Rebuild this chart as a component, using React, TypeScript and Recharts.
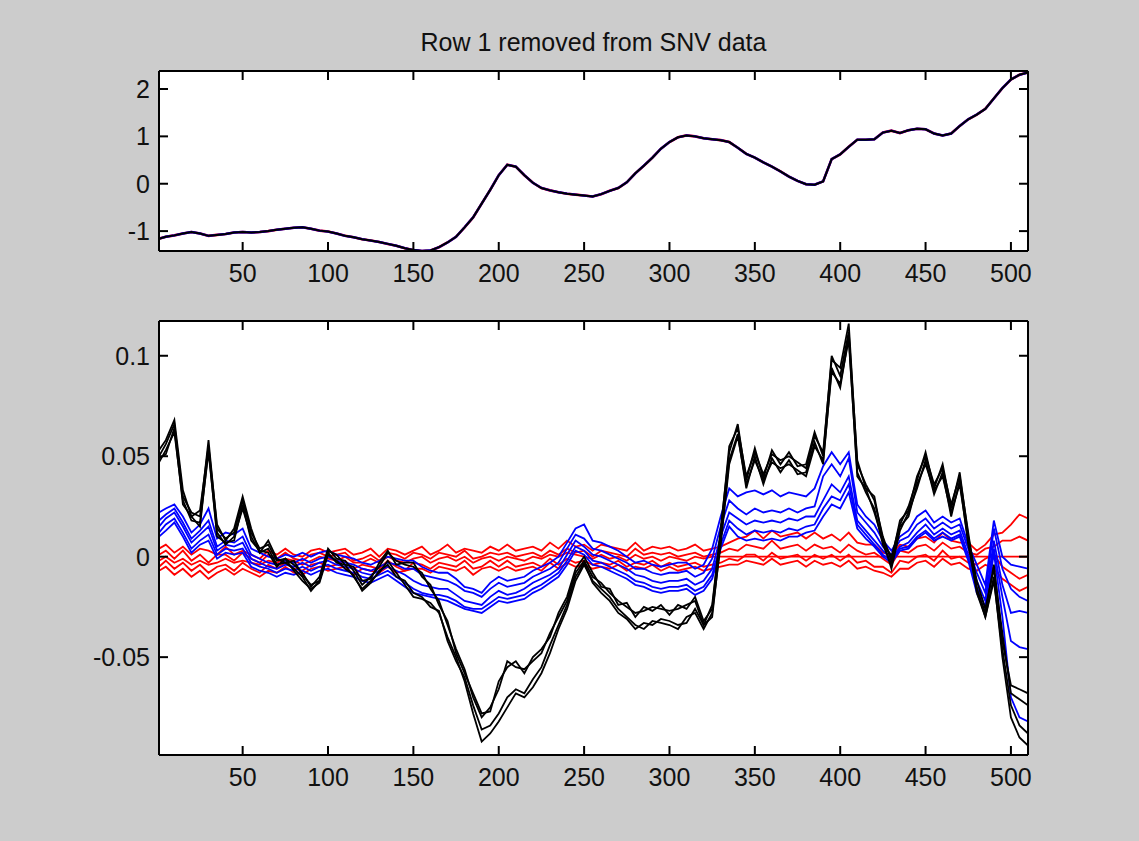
import { LineChart, Line, XAxis, YAxis, CartesianGrid } from "recharts";

// sample positions (variable index) shared by every series
const xs = [
  1, 5, 10, 15, 20, 25, 30, 35, 40, 45,
  50, 55, 60, 65, 70, 75, 80, 85, 90, 95,
  100, 105, 110, 115, 120, 125, 130, 135, 140, 145,
  150, 155, 160, 165, 170, 175, 180, 185, 190, 195,
  200, 205, 210, 215, 220, 225, 230, 235, 240, 245,
  250, 255, 260, 265, 270, 275, 280, 285, 290, 295,
  300, 305, 310, 315, 320, 325, 330, 335, 340, 345,
  350, 355, 360, 365, 370, 375, 380, 385, 390, 395,
  400, 405, 410, 415, 420, 425, 430, 435, 440, 445,
  450, 455, 460, 465, 470, 475, 480, 485, 490, 495,
  500, 505, 510,
];

const xTicks = [50, 100, 150, 200, 250, 300, 350, 400, 450, 500];
const topYTicks = [-1, 0, 1, 2];
const bottomYTicks = [-0.05, 0, 0.05, 0.1];

// upper panel: SNV spectrum (all groups overlap)
const topSpectrum = [
  -1.16, -1.12, -1.09, -1.05, -1.02, -1.05, -1.1, -1.08, -1.06, -1.03,
  -1.02, -1.03, -1.02, -1.0, -0.97, -0.95, -0.93, -0.92, -0.95, -0.99,
  -1.01, -1.05, -1.1, -1.13, -1.17, -1.2, -1.23, -1.27, -1.31, -1.36,
  -1.4, -1.42, -1.41, -1.34, -1.24, -1.12, -0.92, -0.71, -0.42, -0.13,
  0.18, 0.4, 0.36, 0.18, 0.02, -0.09, -0.14, -0.18, -0.21, -0.23,
  -0.25, -0.27, -0.22, -0.15, -0.09, 0.03, 0.22, 0.38, 0.55, 0.74,
  0.88, 0.98, 1.02, 1.0, 0.96, 0.94, 0.92, 0.88, 0.76, 0.63,
  0.55, 0.45, 0.36, 0.26, 0.15, 0.06, -0.01, -0.02, 0.05, 0.52,
  0.62, 0.78, 0.93, 0.93, 0.94, 1.08, 1.12, 1.07, 1.13, 1.16,
  1.15, 1.06, 1.02, 1.06, 1.22, 1.36, 1.46, 1.58, 1.8, 2.02,
  2.2, 2.3, 2.35,
];

// lower panel: residuals, red group
const red1 = [
  0.004, 0.006, 0.002, 0.005, 0.001, 0.004, 0.003, 0.001, 0.005, 0.001,
  0.003, 0.001, -0.001, 0.003, 0.001, 0.004, 0.001, 0.0, 0.003, 0.004,
  0.002, 0.003, 0.004, 0.001, 0.002, 0.004, 0.0, 0.004, 0.003, 0.001,
  0.003, 0.005, 0.001, 0.003, 0.006, 0.002, 0.004, 0.003, 0.002, 0.005,
  0.003, 0.006, 0.003, 0.004, 0.005, 0.003, 0.007, 0.004, 0.008, 0.005,
  0.006, 0.003, 0.006, 0.005, 0.004, 0.003, 0.007, 0.003, 0.005, 0.004,
  0.005, 0.003, 0.004, 0.006, 0.003, 0.004, 0.005, 0.007, 0.009, 0.01,
  0.013, 0.009, 0.013, 0.01, 0.011, 0.012, 0.009, 0.012, 0.009, 0.011,
  0.008, 0.012, 0.007, 0.006, 0.006, 0.002, 0.001, 0.006, 0.005, 0.009,
  0.01, 0.007, 0.012, 0.008, 0.007, 0.007, 0.003, 0.006, 0.011, 0.012,
  0.016, 0.021, 0.019,
];
const red2 = [
  0.001, 0.003, -0.001, 0.003, -0.002, 0.001, -0.003, 0.001, 0.001, -0.002,
  0.002, -0.001, -0.003, 0.001, -0.001, 0.002, -0.001, -0.002, 0.001, 0.002,
  0.0, 0.001, 0.002, -0.002, -0.001, 0.001, -0.002, 0.002, 0.001, -0.001,
  0.002, 0.001, -0.001, 0.002, 0.001, 0.0, 0.003, -0.001, 0.0, 0.002,
  0.001, 0.002, 0.0, 0.001, 0.002, 0.0, 0.003, 0.001, 0.004, 0.002,
  0.003, 0.0, 0.003, 0.002, 0.001, 0.0, 0.004, 0.001, 0.002, 0.001,
  0.002, 0.0, 0.001, 0.002, 0.0, 0.001, 0.002, 0.004, 0.003, 0.006,
  0.005, 0.004, 0.008, 0.004, 0.005, 0.006, 0.003, 0.006, 0.004, 0.005,
  0.002, 0.006, 0.003, 0.001, 0.002, -0.001, -0.004, 0.003, 0.002, 0.005,
  0.006, 0.003, 0.007, 0.004, 0.005, 0.002, 0.001, 0.004, 0.005, 0.008,
  0.008, 0.01, 0.008,
];
const red3 = [
  -0.002, 0.0, -0.003, -0.001, -0.004, -0.002, -0.004, -0.003, -0.001, -0.003,
  -0.002, -0.003, -0.004, -0.002, -0.003, -0.001, -0.002, -0.004, -0.002, 0.0,
  -0.001, -0.002, 0.0, -0.003, -0.003, -0.001, -0.003, 0.0, -0.002, -0.003,
  -0.001, 0.0, -0.003, -0.001, 0.0, -0.002, 0.0, -0.003, -0.001, 0.0,
  -0.002, 0.0, -0.001, -0.002, 0.0, -0.001, 0.001, 0.0, 0.002, 0.001,
  0.0, -0.001, 0.001, -0.001, 0.0, -0.002, 0.001, -0.001, 0.0, -0.002,
  0.0, -0.001, -0.002, 0.0, -0.001, 0.0, 0.0, 0.0, 0.0, 0.0,
  0.0, 0.0, 0.0, 0.0, 0.0, 0.0, 0.0, 0.0, 0.0, 0.0,
  0.0, 0.0, 0.0, 0.0, 0.0, 0.0, 0.0, 0.0, 0.0, 0.0,
  0.0, 0.0, 0.0, 0.0, 0.0, 0.0, 0.0, 0.0, 0.0, 0.0,
  0.0, 0.0, 0.0,
];
const red4 = [
  -0.005, -0.002, -0.006, -0.003, -0.007, -0.004, -0.008, -0.005, -0.004, -0.007,
  -0.003, -0.006, -0.008, -0.004, -0.006, -0.003, -0.006, -0.007, -0.004, -0.003,
  -0.005, -0.004, -0.002, -0.006, -0.004, -0.005, -0.006, -0.002, -0.005, -0.007,
  -0.003, -0.004, -0.006, -0.003, -0.004, -0.005, -0.002, -0.006, -0.005, -0.002,
  -0.005, -0.002, -0.005, -0.004, -0.003, -0.005, -0.001, -0.004, -0.001, -0.003,
  -0.002, -0.004, -0.003, -0.004, -0.002, -0.005, -0.003, -0.004, -0.002, -0.005,
  -0.003, -0.005, -0.004, -0.003, -0.005, -0.004, -0.003, -0.001, -0.002, 0.001,
  0.001, -0.002, 0.002, -0.001, 0.0, 0.001, -0.002, 0.001, -0.001, 0.001,
  -0.002, 0.001, -0.003, -0.002, -0.005, -0.005, -0.008, -0.002, -0.003, 0.0,
  0.001, -0.002, 0.003, -0.001, 0.0, -0.003, -0.004, -0.001, 0.001, -0.005,
  -0.008, -0.011, -0.009,
];
const red5 = [
  -0.007, -0.005, -0.009, -0.006, -0.01, -0.007, -0.011, -0.008, -0.006, -0.009,
  -0.006, -0.008, -0.01, -0.007, -0.008, -0.005, -0.008, -0.009, -0.006, -0.005,
  -0.007, -0.006, -0.005, -0.009, -0.006, -0.007, -0.008, -0.005, -0.008, -0.007,
  -0.006, -0.006, -0.008, -0.005, -0.006, -0.007, -0.005, -0.009, -0.006, -0.005,
  -0.007, -0.005, -0.007, -0.006, -0.005, -0.007, -0.003, -0.006, -0.003, -0.005,
  -0.004, -0.006, -0.005, -0.006, -0.004, -0.007, -0.005, -0.006, -0.004, -0.007,
  -0.005, -0.007, -0.006, -0.005, -0.007, -0.006, -0.005, -0.004, -0.004, -0.002,
  -0.003, -0.004, -0.001, -0.004, -0.003, -0.002, -0.005, -0.002, -0.004, -0.003,
  -0.005, -0.002, -0.006, -0.005, -0.007, -0.008, -0.01, -0.006, -0.006, -0.003,
  -0.002, -0.005, -0.001, -0.004, -0.003, -0.006, -0.007, -0.004, -0.006, -0.011,
  -0.014, -0.017, -0.015,
];

// blue group
const blue1 = [
  0.022, 0.024, 0.026, 0.02, 0.012, 0.016, 0.024, 0.009, 0.012, 0.011,
  0.014, 0.004, 0.002, 0.0, -0.001, 0.001, 0.0, 0.002, 0.0, 0.002,
  0.003, 0.001, 0.0, -0.001, -0.003, -0.004, -0.002, 0.0, -0.001, -0.002,
  -0.002, -0.005, -0.007, -0.008, -0.008, -0.011, -0.015, -0.016, -0.018, -0.013,
  -0.01, -0.012, -0.011, -0.01, -0.007, -0.005, -0.003, 0.0, 0.007, 0.014,
  0.016, 0.008, 0.007, 0.005, 0.003, 0.0, -0.003, -0.002, -0.004, -0.005,
  -0.004, -0.003, -0.003, -0.006, -0.004, 0.004, 0.02, 0.034, 0.03, 0.032,
  0.033, 0.031, 0.033, 0.03, 0.032, 0.031, 0.03, 0.034, 0.045, 0.052,
  0.046, 0.052, 0.026, 0.02, 0.016, 0.008, 0.003, 0.01, 0.013, 0.02,
  0.023, 0.017, 0.02, 0.017, 0.019, 0.006, -0.004, -0.014, 0.018, 0.0,
  -0.004, -0.005, -0.006,
];
const blue2 = [
  0.018, 0.021, 0.024, 0.017, 0.009, 0.013, 0.018, 0.005, 0.008, 0.007,
  0.01, 0.001, -0.001, -0.003, -0.004, -0.002, -0.003, -0.001, -0.003, -0.001,
  0.0, -0.002, -0.003, -0.004, -0.006, -0.007, -0.005, -0.003, -0.004, -0.006,
  -0.006, -0.009, -0.01, -0.011, -0.012, -0.014, -0.017, -0.018, -0.02, -0.016,
  -0.013, -0.015, -0.014, -0.013, -0.01, -0.008, -0.006, -0.003, 0.004, 0.011,
  0.009, 0.004, 0.003, 0.001, -0.001, -0.003, -0.006, -0.006, -0.008, -0.009,
  -0.008, -0.008, -0.007, -0.01, -0.008, -0.001, 0.015, 0.028, 0.024, 0.021,
  0.024, 0.022, 0.023, 0.022, 0.024, 0.022, 0.024, 0.025, 0.04, 0.046,
  0.04, 0.049, 0.022, 0.017, 0.012, 0.005, 0.001, 0.008, 0.01, 0.016,
  0.019, 0.014, 0.017, 0.014, 0.016, 0.004, -0.008, -0.018, 0.014, -0.006,
  -0.016, -0.02, -0.022,
];
const blue3 = [
  0.015, 0.019, 0.022, 0.015, 0.007, 0.011, 0.015, 0.003, 0.006, 0.005,
  0.007, -0.001, -0.003, -0.005, -0.006, -0.004, -0.005, -0.003, -0.005, -0.003,
  -0.002, -0.004, -0.005, -0.006, -0.008, -0.009, -0.007, -0.005, -0.007, -0.009,
  -0.012, -0.014, -0.015, -0.016, -0.016, -0.019, -0.022, -0.023, -0.024, -0.02,
  -0.017, -0.019, -0.018, -0.016, -0.013, -0.011, -0.009, -0.006, 0.001, 0.008,
  0.005, 0.001, 0.0, -0.002, -0.004, -0.006, -0.009, -0.01, -0.012, -0.013,
  -0.012, -0.012, -0.011, -0.014, -0.012, -0.006, 0.01, 0.022, 0.019, 0.016,
  0.018, 0.017, 0.018, 0.017, 0.019, 0.018, 0.02, 0.02, 0.028, 0.036,
  0.032, 0.04, 0.018, 0.013, 0.008, 0.003, -0.001, 0.005, 0.007, 0.012,
  0.016, 0.011, 0.014, 0.011, 0.013, 0.001, -0.012, -0.022, 0.008, -0.014,
  -0.028, -0.027, -0.028,
];
const blue4 = [
  0.012, 0.016, 0.019, 0.012, 0.004, 0.008, 0.011, 0.001, 0.004, 0.003,
  0.004, -0.003, -0.005, -0.006, -0.008, -0.006, -0.007, -0.005, -0.007, -0.005,
  -0.004, -0.006, -0.007, -0.008, -0.01, -0.011, -0.009, -0.007, -0.01, -0.013,
  -0.016, -0.018, -0.019, -0.019, -0.02, -0.022, -0.025, -0.026, -0.026, -0.023,
  -0.02, -0.021, -0.02, -0.019, -0.016, -0.014, -0.011, -0.008, -0.002, 0.005,
  0.003, -0.002, -0.003, -0.005, -0.007, -0.009, -0.012, -0.013, -0.015, -0.016,
  -0.015, -0.015, -0.014, -0.017, -0.015, -0.009, 0.006, 0.018, 0.014, 0.011,
  0.013, 0.012, 0.013, 0.012, 0.014, 0.013, 0.015, 0.016, 0.024, 0.03,
  0.028, 0.036, 0.016, 0.011, 0.006, 0.001, -0.002, 0.004, 0.005, 0.01,
  0.013, 0.009, 0.012, 0.009, 0.011, -0.001, -0.015, -0.025, 0.004, -0.02,
  -0.042, -0.045, -0.046,
];
const blue5 = [
  0.01, 0.013, 0.017, 0.01, 0.002, 0.006, 0.008, -0.001, 0.002, 0.001,
  0.002, -0.005, -0.007, -0.008, -0.01, -0.008, -0.009, -0.007, -0.009, -0.007,
  -0.006, -0.008, -0.009, -0.01, -0.012, -0.013, -0.011, -0.009, -0.012, -0.015,
  -0.018, -0.019, -0.02, -0.021, -0.022, -0.024, -0.026, -0.027, -0.028, -0.025,
  -0.022, -0.023, -0.022, -0.021, -0.018, -0.016, -0.013, -0.01, -0.004, 0.003,
  0.001, -0.004, -0.005, -0.007, -0.009, -0.011, -0.014, -0.015, -0.017, -0.018,
  -0.017, -0.017, -0.016, -0.019, -0.017, -0.011, 0.004, 0.015, 0.01, 0.008,
  0.009, 0.008, 0.009, 0.008, 0.01, 0.01, 0.012, 0.013, 0.02, 0.026,
  0.024, 0.032, 0.014, 0.009, 0.005, 0.0, -0.003, 0.003, 0.004, 0.009,
  0.012, 0.008, 0.01, 0.008, 0.01, -0.002, -0.018, -0.028, 0.002, -0.03,
  -0.07, -0.08, -0.082,
];

// black group
const black1 = [
  0.05, 0.056, 0.066, 0.03, 0.022, 0.02, 0.058, 0.014, 0.009, 0.012,
  0.028, 0.012, 0.004, 0.006, -0.002, -0.001, -0.004, -0.008, -0.015, -0.01,
  0.004, -0.001, -0.002, -0.007, -0.014, -0.01, -0.005, 0.002, -0.002, -0.004,
  -0.005, -0.008, -0.016, -0.022, -0.034, -0.046, -0.056, -0.07, -0.08, -0.075,
  -0.066, -0.052, -0.055, -0.056, -0.052, -0.048, -0.038, -0.03, -0.022, -0.008,
  -0.002, -0.01, -0.013, -0.018, -0.022, -0.025, -0.028, -0.027, -0.025, -0.026,
  -0.027, -0.026, -0.024, -0.022, -0.034, -0.024, 0.012, 0.055, 0.064, 0.04,
  0.052, 0.041, 0.051, 0.048, 0.05, 0.047, 0.044, 0.06, 0.052, 0.098,
  0.094, 0.116, 0.046, 0.036, 0.028, 0.01, -0.002, 0.018, 0.023, 0.04,
  0.05, 0.036, 0.044, 0.026, 0.04, 0.012, -0.016, -0.028, -0.004, -0.042,
  -0.064, -0.066, -0.068,
];
const black2 = [
  0.053, 0.058, 0.068, 0.033, 0.02, 0.023, 0.055, 0.016, 0.008, 0.014,
  0.03, 0.014, 0.002, 0.008, -0.001, -0.003, -0.002, -0.009, -0.014, -0.012,
  0.003, 0.001, -0.004, -0.005, -0.012, -0.011, -0.003, 0.003, -0.004, -0.003,
  -0.003, -0.01, -0.014, -0.024, -0.032, -0.048, -0.058, -0.068, -0.078, -0.077,
  -0.062, -0.055, -0.052, -0.058, -0.05, -0.046, -0.04, -0.028, -0.02, -0.006,
  0.0, -0.008, -0.015, -0.016, -0.024, -0.023, -0.03, -0.025, -0.027, -0.024,
  -0.029, -0.024, -0.026, -0.02, -0.032, -0.026, 0.014, 0.052, 0.066, 0.038,
  0.054, 0.039, 0.053, 0.046, 0.052, 0.045, 0.046, 0.062, 0.05, 0.1,
  0.09, 0.112, 0.048, 0.034, 0.03, 0.008, 0.0, 0.016, 0.025, 0.038,
  0.052, 0.034, 0.046, 0.024, 0.042, 0.01, -0.012, -0.026, -0.006, -0.038,
  -0.068, -0.071, -0.074,
];
const black3 = [
  0.047, 0.053, 0.062, 0.028, 0.018, 0.017, 0.052, 0.012, 0.006, 0.01,
  0.024, 0.01, 0.002, 0.004, -0.004, -0.003, -0.006, -0.01, -0.017, -0.012,
  0.002, -0.003, -0.004, -0.01, -0.016, -0.012, -0.008, -0.002, -0.008, -0.014,
  -0.02, -0.021, -0.023, -0.028, -0.04, -0.05, -0.062, -0.078, -0.092, -0.088,
  -0.082, -0.075, -0.068, -0.07, -0.065, -0.058, -0.048, -0.036, -0.026, -0.012,
  -0.004, -0.012, -0.016, -0.02, -0.026, -0.03, -0.034, -0.036, -0.032, -0.033,
  -0.034, -0.036, -0.03, -0.028, -0.036, -0.028, 0.006, 0.046, 0.06, 0.036,
  0.048, 0.038, 0.047, 0.044, 0.046, 0.043, 0.04, 0.055, 0.048, 0.092,
  0.086, 0.108, 0.042, 0.032, 0.024, 0.006, -0.004, 0.015, 0.02, 0.036,
  0.046, 0.033, 0.04, 0.022, 0.036, 0.008, -0.018, -0.03, -0.01, -0.05,
  -0.08, -0.09, -0.094,
];
const black4 = [
  0.049, 0.051, 0.064, 0.026, 0.02, 0.015, 0.054, 0.01, 0.007, 0.008,
  0.026, 0.008, 0.003, 0.002, -0.005, -0.001, -0.007, -0.012, -0.016, -0.013,
  0.001, -0.002, -0.006, -0.009, -0.017, -0.013, -0.007, -0.004, -0.01, -0.012,
  -0.018, -0.02, -0.025, -0.027, -0.042, -0.052, -0.06, -0.074, -0.086, -0.084,
  -0.078, -0.07, -0.066, -0.068, -0.061, -0.055, -0.044, -0.034, -0.024, -0.01,
  -0.003, -0.013, -0.018, -0.022, -0.028, -0.031, -0.036, -0.033, -0.034, -0.031,
  -0.032, -0.034, -0.033, -0.026, -0.034, -0.03, 0.008, 0.048, 0.061, 0.034,
  0.05, 0.036, 0.049, 0.042, 0.048, 0.041, 0.042, 0.057, 0.046, 0.094,
  0.084, 0.11, 0.04, 0.034, 0.022, 0.008, -0.006, 0.013, 0.022, 0.034,
  0.048, 0.031, 0.042, 0.02, 0.038, 0.006, -0.016, -0.03, -0.012, -0.046,
  -0.074, -0.084, -0.088,
];

const bottomSeries = [
  { key: "red1", color: "#ff0000", values: red1 },
  { key: "red2", color: "#ff0000", values: red2 },
  { key: "red3", color: "#ff0000", values: red3 },
  { key: "red4", color: "#ff0000", values: red4 },
  { key: "red5", color: "#ff0000", values: red5 },
  { key: "blue1", color: "#0000ff", values: blue1 },
  { key: "blue2", color: "#0000ff", values: blue2 },
  { key: "blue3", color: "#0000ff", values: blue3 },
  { key: "blue4", color: "#0000ff", values: blue4 },
  { key: "blue5", color: "#0000ff", values: blue5 },
  { key: "black1", color: "#000000", values: black1 },
  { key: "black2", color: "#000000", values: black2 },
  { key: "black3", color: "#000000", values: black3 },
  { key: "black4", color: "#000000", values: black4 },
];

const topData = xs.map((x, i) => ({ x, v: topSpectrum[i] }));
const bottomData = xs.map((x, i) => {
  const row: Record<string, number> = { x };
  bottomSeries.forEach((s) => (row[s.key] = s.values[i]));
  return row;
});

const FONT = '"Liberation Sans", Arial, Helvetica, sans-serif';
const TICK_LEN = 9;
const INK = "#111";

// ticks point inward, labels sit outside the box (MATLAB style)
const BottomTick = (props: any) => {
  const { x, y, payload } = props;
  return (
    <g>
      <line x1={x} y1={y} x2={x} y2={y - TICK_LEN} stroke="#000" strokeWidth={2} />
      <text x={x} y={y + 22} textAnchor="middle" dominantBaseline="central"
        fontFamily={FONT} fontSize={25} fill={INK}>
        {payload.value}
      </text>
    </g>
  );
};

const LeftTick = (props: any) => {
  const { x, y, payload } = props;
  return (
    <g>
      <line x1={x} y1={y} x2={x + TICK_LEN} y2={y} stroke="#000" strokeWidth={2} />
      <text x={x - 9} y={y} textAnchor="end" dominantBaseline="central"
        fontFamily={FONT} fontSize={25} fill={INK}>
        {String(payload.value)}
      </text>
    </g>
  );
};

const TopTick = (props: any) => {
  const { x, y } = props;
  return <line x1={x} y1={y} x2={x} y2={y + TICK_LEN} stroke="#000" strokeWidth={2} />;
};

const RightTick = (props: any) => {
  const { x, y } = props;
  return <line x1={x} y1={y} x2={x - TICK_LEN} y2={y} stroke="#000" strokeWidth={2} />;
};

const axisLine = { stroke: "#000", strokeWidth: 2 };

const Frame = ({ yDomain, yTicks }: { yDomain: number[]; yTicks: number[] }) => [
  <CartesianGrid key="bg" horizontal={false} vertical={false} fill="#ffffff" />,
  <XAxis key="xb" xAxisId={0} dataKey="x" type="number" domain={[1, 510]} ticks={xTicks}
    allowDataOverflow height={40} tickSize={0} tickMargin={0} tickLine={false}
    axisLine={axisLine} tick={(p: any) => <BottomTick {...p} />} interval={0} />,
  <XAxis key="xt" xAxisId="top" orientation="top" dataKey="x" type="number" domain={[1, 510]}
    ticks={xTicks} allowDataOverflow height={1} tickSize={0} tickMargin={0} tickLine={false}
    axisLine={axisLine} tick={(p: any) => <TopTick {...p} />} interval={0} />,
  <YAxis key="yl" yAxisId={0} type="number" domain={yDomain} ticks={yTicks} allowDataOverflow
    width={80} tickSize={0} tickMargin={0} tickLine={false} axisLine={axisLine}
    tick={(p: any) => <LeftTick {...p} />} interval={0} />,
  <YAxis key="yr" yAxisId="right" orientation="right" type="number" domain={yDomain}
    ticks={yTicks} allowDataOverflow width={1} tickSize={0} tickMargin={0} tickLine={false}
    axisLine={axisLine} tick={(p: any) => <RightTick {...p} />} interval={0} />,
];

// invisible series so the frame axes (top / right) get rendered
const FrameAnchor = (key: string) => (
  <Line key={key} xAxisId="top" yAxisId="right" dataKey="x" stroke="none" dot={false}
    isAnimationActive={false} legendType="none" />
);

export default function App() {
  return (
    <div
      style={{
        position: "absolute",
        left: 0,
        top: 0,
        width: 1139,
        height: 841,
        background: "#cccccc",
        overflow: "hidden",
      }}
    >
      <div
        style={{
          position: "absolute",
          left: 159,
          width: 869,
          top: 27,
          textAlign: "center",
          fontFamily: FONT,
          fontSize: 25,
          lineHeight: "30px",
          color: INK,
        }}
      >
        Row 1 removed from SNV data
      </div>

      <div style={{ position: "absolute", left: 0, top: 0 }}>
        <LineChart width={1139} height={300} data={topData}
          margin={{ top: 70, right: 110, bottom: 9, left: 79 }}>
          {Frame({ yDomain: [-1.42, 2.38], yTicks: topYTicks })}
          {FrameAnchor("anchorTop")}
          <Line dataKey="v" stroke="#ff0000" strokeWidth={2.6} dot={false} isAnimationActive={false} />
          <Line dataKey="v" stroke="#0000ff" strokeWidth={2.4} dot={false} isAnimationActive={false} />
          <Line dataKey="v" stroke="#000000" strokeWidth={2} dot={false} isAnimationActive={false} />
        </LineChart>
      </div>

      <div style={{ position: "absolute", left: 0, top: 300 }}>
        <LineChart width={1139} height={541} data={bottomData}
          margin={{ top: 20, right: 110, bottom: 46, left: 79 }}>
          {Frame({ yDomain: [-0.0987, 0.1173], yTicks: bottomYTicks })}
          {FrameAnchor("anchorBottom")}
          {bottomSeries.map((s) => (
            <Line key={s.key} dataKey={s.key} stroke={s.color} strokeWidth={1.8}
              dot={false} isAnimationActive={false} />
          ))}
        </LineChart>
      </div>
    </div>
  );
}
